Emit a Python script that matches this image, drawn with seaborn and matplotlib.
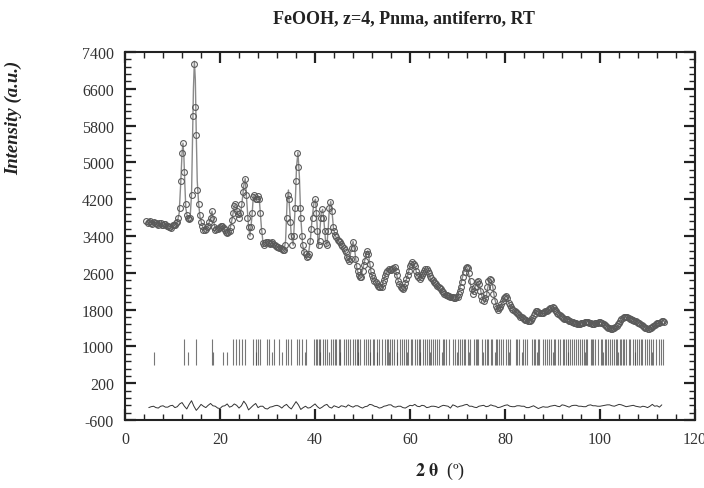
import numpy as np
import matplotlib
matplotlib.use("Agg")
import matplotlib.pyplot as plt
import seaborn as sns
from matplotlib.ticker import MultipleLocator

# calculated profile (2theta, intensity)
calc_theta = [
	4.5, 5.0, 5.5, 6.0, 6.5, 7.0, 7.5, 8.0, 8.5, 9.0, 9.5, 10.0, 10.5, 11.0, 11.4, 11.7,
	12.0, 12.2, 12.4, 12.6, 12.8, 13.1, 13.4, 13.7, 14.0, 14.2, 14.4, 14.6, 14.8, 15.0,
	15.2, 15.5, 15.8, 16.2, 16.6, 17.0, 17.5, 18.0, 18.3, 18.6, 19.0, 19.5, 20.0, 20.5,
	21.0, 21.5, 22.0, 22.5, 23.0, 23.3, 23.7, 24.2, 24.6, 25.0, 25.3, 25.6, 26.0, 26.3,
	26.7, 27.0, 27.3, 27.6, 28.0, 28.3, 28.7, 29.1, 29.6, 30.0, 30.5, 31.0, 31.5, 32.0,
	32.5, 33.0, 33.5, 33.8, 34.1, 34.4, 34.7, 35.0, 35.4, 35.8, 36.1, 36.4, 36.7, 37.0,
	37.4, 37.8, 38.2, 38.6, 39.0, 39.4, 39.8, 40.1, 40.4, 40.7, 41.0, 41.3, 41.6, 41.9,
	42.2, 42.5, 42.8, 43.0, 43.3, 43.6, 43.9, 44.3, 44.8, 45.3, 45.8, 46.3, 46.8, 47.2,
	47.6, 48.0, 48.4, 48.8, 49.2, 49.6, 50.0, 50.4, 50.8, 51.1, 51.4, 51.8, 52.2, 52.6,
	53.0, 53.5, 54.0, 54.5, 55.0, 55.5, 56.0, 56.5, 56.8, 57.2, 57.6, 58.0, 58.5, 59.0,
	59.5, 60.0, 60.5, 61.0, 61.5, 62.0, 62.5, 63.0, 63.4, 63.8, 64.3, 64.8, 65.3, 65.8,
	66.3, 66.8, 67.3, 67.8, 68.3, 68.8, 69.3, 69.8, 70.3, 70.8, 71.3, 71.7, 72.1, 72.5,
	72.9, 73.3, 73.7, 74.0, 74.3, 74.7, 75.1, 75.5, 75.9, 76.3, 76.7, 77.0, 77.4, 77.8,
	78.2, 78.6, 79.0, 79.5, 80.0, 80.4, 80.8, 81.3, 81.8, 82.3, 82.8, 83.3, 83.8, 84.3,
	84.8, 85.3, 85.8, 86.3, 86.8, 87.3, 87.8, 88.3, 88.8, 89.3, 89.8, 90.3, 90.8, 91.3,
	91.8, 92.3, 92.8, 93.3, 93.8, 94.3, 94.8, 95.3, 95.8, 96.3, 96.8, 97.3, 97.8, 98.3,
	98.8, 99.3, 99.8, 100.3, 100.8, 101.3, 101.8, 102.3, 102.8, 103.3, 103.8, 104.3,
	104.8, 105.3, 105.8, 106.3, 106.8, 107.3, 107.8, 108.3, 108.8, 109.3, 109.8, 110.3,
	110.8, 111.3, 111.8, 112.3, 112.8, 113.3,
]
calc_int = [
	3720, 3700, 3680, 3710, 3690, 3650, 3680, 3640, 3660, 3620, 3600, 3630, 3650, 3700, 3900, 4500,
	5200, 5420, 5100, 4500, 4000, 3830, 3760, 3800, 4300, 5400, 6600, 7200, 6800, 5600,
	4600, 4100, 3800, 3650, 3520, 3560, 3620, 3800, 3940, 3750, 3540, 3560, 3600, 3620,
	3520, 3460, 3500, 3750, 4050, 4100, 3880, 3800, 4100, 4500, 4650, 4200, 3600, 3400,
	3800, 4250, 4300, 4200, 4280, 4150, 3600, 3200, 3250, 3280, 3230, 3260, 3200, 3170,
	3150, 3120, 3100, 3300, 4100, 4400, 3900, 3400, 3200, 4000, 4900, 5220, 4700, 3800,
	3200, 3000, 2950, 3000, 3300, 3800, 4150, 4200, 3700, 3150, 3500, 3900, 3980, 3700,
	3300, 3200, 3600, 4000, 4150, 3900, 3550, 3400, 3300, 3250, 3150, 3050, 2900, 2850,
	3100, 3280, 3050, 2700, 2550, 2500, 2650, 2850, 3000, 3080, 2900, 2600, 2480, 2420,
	2350, 2290, 2300, 2450, 2600, 2680, 2660, 2700, 2720, 2550, 2400, 2300, 2250, 2380,
	2550, 2750, 2840, 2750, 2550, 2470, 2550, 2650, 2690, 2600, 2480, 2400, 2350, 2300,
	2250, 2180, 2120, 2100, 2080, 2070, 2060, 2080, 2200, 2400, 2620, 2720, 2700, 2500,
	2250, 2150, 2300, 2400, 2420, 2300, 2100, 1980, 2000, 2250, 2430, 2460, 2300, 2050,
	1880, 1800, 1850, 1980, 2080, 2090, 1950, 1850, 1800, 1750, 1700, 1650, 1600, 1580,
	1560, 1550, 1600, 1720, 1770, 1740, 1720, 1730, 1760, 1790, 1830, 1850, 1800, 1720,
	1680, 1640, 1600, 1590, 1560, 1540, 1520, 1500, 1480, 1500, 1520, 1540, 1530, 1500,
	1480, 1500, 1520, 1530, 1510, 1460, 1420, 1390, 1380, 1400, 1450, 1520,
	1590, 1630, 1640, 1620, 1590, 1570, 1550, 1520, 1480, 1440, 1400, 1380,
	1390, 1420, 1460, 1500, 1520, 1550,
]

# observed points, one every 0.25 deg from 4.5 (rows: one degree each)
obs_start, obs_step = 4.5, 0.25
obs_int = [
	3720, 3690,
	3700, 3730, 3680, 3670,  3710, 3690, 3690, 3660,  3650, 3680, 3680, 3640,
	3640, 3660, 3660, 3620,  3620, 3600, 3600, 3580,  3630, 3650, 3650, 3680,
	3700, 3800, 4000, 4600,  5200, 5420, 4800, 4100,  3860, 3800, 3760, 3800,
	4300, 6000, 7150, 6200,  5600, 4400, 4100, 3850,  3700, 3620, 3520, 3530,
	3560, 3600, 3620, 3700,  3800, 3940, 3760, 3600,  3540, 3560, 3560, 3580,
	3600, 3620, 3620, 3570,  3520, 3480, 3460, 3480,  3500, 3600, 3750, 3900,
	4050, 4100, 3950, 3880,  3800, 3900, 4100, 4350,  4500, 4650, 4300, 3800,
	3600, 3400, 3600, 3900,  4250, 4300, 4200, 4200,  4280, 4200, 3900, 3500,
	3250, 3200, 3250, 3270,  3280, 3250, 3230, 3240,  3260, 3220, 3200, 3180,
	3170, 3160, 3150, 3130,  3120, 3100, 3100, 3200,  3800, 4300, 4200, 3700,
	3400, 3200, 3400, 4000,  4600, 5200, 4900, 4000,  3800, 3400, 3200, 3050,
	3000, 2950, 2960, 3000,  3300, 3550, 3800, 4100,  4200, 3900, 3500, 3200,
	3300, 3800, 3980, 3800,  3500, 3250, 3200, 3500,  4000, 4150, 3950, 3600,
	3500, 3420, 3380, 3320,  3300, 3270, 3230, 3180,  3150, 3100, 3050, 2950,
	2900, 2860, 2900, 3150,  3280, 3150, 2900, 2750,  2650, 2560, 2520, 2500,
	2650, 2760, 2850, 3000,  3080, 3000, 2800, 2650,  2550, 2480, 2430, 2400,
	2350, 2320, 2290, 2300,  2300, 2380, 2450, 2530,  2600, 2650, 2680, 2670,
	2660, 2690, 2700, 2720,  2650, 2550, 2430, 2360,  2300, 2270, 2250, 2300,
	2380, 2460, 2550, 2650,  2750, 2800, 2840, 2800,  2750, 2650, 2550, 2500,
	2470, 2500, 2550, 2600,  2650, 2680, 2690, 2640,  2600, 2540, 2480, 2440,
	2400, 2370, 2350, 2320,  2300, 2270, 2250, 2210,  2180, 2150, 2120, 2110,
	2100, 2090, 2080, 2075,  2070, 2060, 2060, 2070,  2080, 2140, 2200, 2300,
	2400, 2520, 2620, 2700,  2720, 2700, 2600, 2420,  2250, 2150, 2200, 2300,
	2400, 2420, 2360, 2200,  2100, 2000, 1980, 2050,  2150, 2300, 2430, 2460,
	2440, 2300, 2150, 1980,  1880, 1830, 1800, 1830,  1850, 1920, 1980, 2050,
	2080, 2090, 2050, 1950,  1900, 1850, 1820, 1800,  1780, 1750, 1720, 1700,
	1680, 1650, 1630, 1610,  1600, 1580, 1570, 1560,  1560, 1550, 1580, 1620,
	1680, 1720, 1770, 1760,  1740, 1730, 1720, 1720,  1730, 1740, 1760, 1780,
	1790, 1810, 1830, 1845,  1850, 1830, 1800, 1760,  1720, 1700, 1680, 1660,
	1640, 1620, 1600, 1595,  1590, 1575, 1560, 1550,  1540, 1530, 1520, 1510,
	1500, 1490, 1480, 1490,  1500, 1510, 1520, 1530,  1540, 1535, 1530, 1515,
	1500, 1490, 1480, 1490,  1500, 1510, 1520, 1525,  1530, 1520, 1510, 1490,
	1460, 1440, 1420, 1400,  1390, 1385, 1380, 1390,  1400, 1420, 1450, 1480,
	1520, 1550, 1590, 1610,  1630, 1635, 1640, 1630,  1620, 1605, 1590, 1580,
	1570, 1560, 1550, 1535,  1520, 1500, 1480, 1460,  1440, 1420, 1400, 1390,
	1380, 1385, 1390, 1405,  1420, 1440, 1460, 1480,  1500, 1510, 1520, 1535,
	1550, 1560, 1540,
]
obs_theta = obs_start + obs_step * np.arange(len(obs_int))

# Bragg reflections: nuclear phase (long ticks) and magnetic phase (short ticks)
bragg_nuclear = [
	12.4, 14.9, 18.3, 22.7, 23.4, 24.0, 24.6, 25.3, 27.0, 27.6, 28.0, 28.4, 29.9, 30.3,
	31.4, 32.4, 33.9, 34.3, 34.9, 36.2, 36.6, 37.3, 38.1, 39.8, 40.1, 40.4, 40.8, 41.0,
	41.6, 42.2, 42.6, 43.3, 43.8, 44.4, 45.0, 45.3, 46.1, 46.5, 47.0, 47.4, 48.0, 48.5,
	49.0, 49.4, 50.3, 50.7, 51.1, 51.6, 52.5, 53.0, 53.4, 54.2, 54.8, 55.4, 55.8, 56.3,
	56.7, 57.3, 57.9, 58.4, 58.8, 59.6, 60.2, 60.5, 61.1, 61.9, 62.2, 62.8, 63.1, 63.9,
	64.5, 64.8, 65.6, 66.1, 66.9, 67.2, 67.5, 69.0, 69.4, 70.2, 70.5, 70.9, 71.6, 72.3,
	72.6, 73.4, 74.1, 74.4, 75.1, 75.8, 76.2, 76.5, 77.3, 78.0, 78.3, 78.7, 79.6, 80.2,
	80.6, 82.2, 82.6, 83.0, 83.7, 84.2, 86.0, 86.4, 86.9, 87.2, 87.9, 88.5, 88.8, 89.6,
	90.3, 90.6, 91.1, 91.5, 92.2, 92.9, 93.3, 93.7, 94.5, 94.9, 95.3, 96.6, 97.0, 97.3,
	98.1, 98.6, 99.0, 99.5, 100.2, 100.5, 101.2, 101.7, 102.1, 102.9, 103.3, 103.6, 104.4,
	104.8, 105.5, 106.1, 106.4, 107.0, 107.7, 108.2, 108.6, 109.4, 109.9, 110.3, 112.4,
	112.9, 113.3,
	# extra reflections in the dense high-angle region
	44.1, 48.8, 52.1, 55.1, 59.2, 61.5, 63.6, 65.3, 68.1, 71.3, 73.8, 77.0, 79.2, 81.0,
	84.6, 85.7, 89.2, 92.5, 94.1, 95.8, 96.2, 98.3, 101.0, 102.5, 104.1, 105.1, 107.4,
	108.9, 110.7, 111.2, 111.8,
]
bragg_magnetic = [
	6.1, 13.3, 18.5, 20.6, 21.4, 27.6, 30.9, 33.0, 37.9, 41.0, 43.0, 45.3, 49.0, 51.5,
	53.0, 55.6, 57.3, 59.4, 62.1, 64.2, 66.7, 69.8, 72.4, 75.3, 77.9, 80.9, 83.6, 86.8,
	90.1, 93.2, 96.9, 100.7, 103.8, 107.4, 110.9,
]

# difference curve (obs - calc, offset), one value per 0.5 deg from 5
diff_vals = [
	-330, -310, -300, -330, -340, -300, -290, -320, -320, -290, -280, -330, -310, -250,
	-220, -300, -360, -260, -180, -300, -390, -330, -260, -300, -330, -280, -240, -290,
	-300, -340, -350, -300, -290, -250, -320, -300, -250, -280, -340, -290, -190, -260,
	-380, -330, -280, -240, -330, -300, -300, -350, -360, -320, -310, -290, -280, -300,
	-340, -290, -260, -320, -360, -280, -200, -270, -370, -330, -300, -340, -330, -290,
	-250, -310, -350, -320, -280, -260, -320, -340, -290, -310, -330, -290, -300, -320,
	-270, -300, -320, -290, -290, -320, -340, -310, -300, -260, -270, -300, -310, -340,
	-330, -300, -290, -270, -270, -310, -320, -300, -300, -330, -340, -310, -280, -290,
	-260, -300, -310, -280, -290, -330, -320, -300, -300, -310, -330, -300, -280, -290,
	-300, -340, -270, -290, -320, -300, -290, -270, -260, -300, -300, -320, -330, -300,
	-290, -280, -310, -300, -270, -290, -300, -330, -320, -300, -280, -270, -300, -310,
	-310, -290, -290, -300, -300, -330, -330, -310, -290, -320, -350, -330, -310, -320,
	-320, -300, -290, -280, -300, -310, -270, -280, -300, -320, -290, -280, -280, -300,
	-300, -310, -310, -280, -270, -290, -290, -300, -300, -290, -280, -270, -270, -290,
	-300, -280, -260, -270, -290, -310, -300, -290, -280, -300, -310, -320, -300, -310,
	-330, -300, -260, -300, -290, -320, -270,
]
diff_theta = 5.0 + 0.5 * np.arange(len(diff_vals))

sns.set_theme(style="ticks")
plt.rcParams['font.family'] = ['Liberation Serif', 'DejaVu Serif']
plt.rcParams['mathtext.fontset'] = 'stix'
plt.rcParams['axes.unicode_minus'] = False

fig = plt.figure(figsize=(7.04, 4.89), dpi=100)
ax = fig.add_axes([0.1776, 0.139, 0.8097, 0.7526])

sns.lineplot(x=calc_theta, y=calc_int, ax=ax, color="#8a8a8a", linewidth=1.0, sort=False)
sns.lineplot(x=obs_theta, y=obs_int, ax=ax, linestyle="none", marker="o", markersize=4.2,
	markerfacecolor="none", markeredgecolor="#5a5a5a", markeredgewidth=0.8, sort=False)

ax.vlines(bragg_nuclear, 590, 1160, color="#4a4a4a", linewidth=0.8, alpha=0.75)
ax.vlines(bragg_magnetic, 590, 880, color="#4a4a4a", linewidth=0.8, alpha=0.75)

sns.lineplot(x=diff_theta, y=diff_vals, ax=ax, color="#333333", linewidth=0.7, sort=False)

ax.set_xlim(0, 120)
ax.set_ylim(-600, 7400)
ax.xaxis.set_major_locator(MultipleLocator(20))
ax.xaxis.set_minor_locator(MultipleLocator(4))
ax.set_yticks(np.arange(-600, 7401, 800))
ax.set_yticks(np.arange(-600, 7401, 160), minor=True)
ax.tick_params(which="both", direction="in", top=True, right=True, colors="#222222",
	labelcolor="#333333", labelsize=11.5, pad=8)
ax.tick_params(which="major", length=8, width=1.6)
ax.tick_params(which="minor", length=4.5, width=1.0)
for s in ax.spines.values():
	s.set_linewidth(1.5)
	s.set_color("#222222")

ax.set_xlabel(r"$\mathbf{2\ \theta}$  (º)", fontsize=13, color="#222222")
ax.xaxis.set_label_coords(0.553, -0.108)
ax.set_ylabel("Intensity (a.u.)", fontsize=13.5, fontweight="bold", fontstyle="italic",
	color="#222222")
ax.yaxis.set_label_coords(-0.181, 0.823)
fig.text(0.574, 0.962, "FeOOH, z=4, Pnma, antiferro, RT", ha="center", va="center",
	fontsize=13, fontweight="bold", color="#222222")

fig.savefig("out.png", dpi=100)
